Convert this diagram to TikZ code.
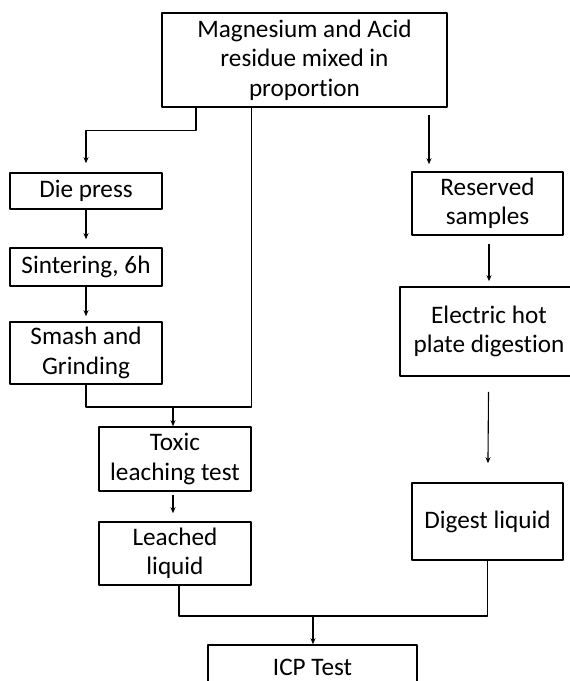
\documentclass[tikz,border=0pt]{standalone}
\usepackage{fontspec}
\setmainfont{Carlito}[Ligatures=NoCommon]
\usetikzlibrary{arrows.meta}
\begin{document}
\begin{tikzpicture}[x=1pt, y=-1pt, line join=round, >={Stealth[length=6pt,width=5pt]},
	box/.style={draw, line width=1.6pt, align=center, inner sep=0pt, font=\fontsize{25.2}{29.5}\selectfont},
	link/.style={line width=1.1pt}]
	\useasboundingbox (0,0) rectangle (570,681);
	\clip (0,0) rectangle (570,681);
	% boxes
	\node[box, minimum width=285pt, minimum height=94pt] (mix) at (304.5,60) {Magnesium and Acid\\residue mixed in\\proportion};
	\node[box, minimum width=152pt, minimum height=36pt] (die) at (86,191) {Die press};
	\node[box, minimum width=152pt, minimum height=38pt] (sinter) at (86,267) {Sintering, 6h};
	\node[box, minimum width=152pt, minimum height=62pt] (smash) at (86,353) {Smash and\\Grinding};
	\node[box, minimum width=152pt, minimum height=64pt] (toxic) at (175,459) {Toxic\\leaching test};
	\node[box, minimum width=152pt, minimum height=63pt] (leached) at (175,553.5) {Leached\\liquid};
	\node[box, minimum width=151pt, minimum height=63pt] (reserved) at (487.5,203.5) {Reserved\\samples};
	\node[box, minimum width=178pt, minimum height=89pt] (electric) at (489,331.5) {Electric hot\\plate digestion};
	\node[box, minimum width=151pt, minimum height=77pt] (digest) at (487.5,521.5) {Digest liquid};
	\node[box, minimum width=209pt, minimum height=44pt] (icp) at (312.5,667) {ICP Test};
	\coordinate (leftjoin) at (173,407);
	\coordinate (bottomjoin) at (313,616);
	% left branch
	\draw[link,->,shorten >=9pt] (mix.south -| 196,0) -- ++(0,23) -| (die.north);
	\draw[link,->,shorten >=8pt] (die) -- (sinter);
	\draw[link,->,shorten >=5pt] (sinter) -- (smash);
	\draw[link] (smash.south) |- (leftjoin) -| (mix.south -| toxic.east);
	\draw[link,->] (leftjoin) -- (toxic.north -| leftjoin);
	\draw[link,->,shorten <=3pt,shorten >=8pt] (toxic.south -| leftjoin) -- (leached.north -| leftjoin);
	% right branch
	\draw[link,->,shorten <=7pt,shorten >=7pt] (mix.south -| 429,0) -- (reserved.north -| 429,0);
	\draw[link,->,shorten <=8pt,shorten >=5pt] (reserved.south -| electric) -- (electric.north);
	\draw[link,->,shorten <=15pt,shorten >=19pt] (electric) -- (digest);
	% join to ICP
	\draw[link] (leached.south -| 179,0) |- (bottomjoin) -| (digest.south);
	\draw[link,->] (bottomjoin) -- (icp.north -| bottomjoin);
\end{tikzpicture}
\end{document}
